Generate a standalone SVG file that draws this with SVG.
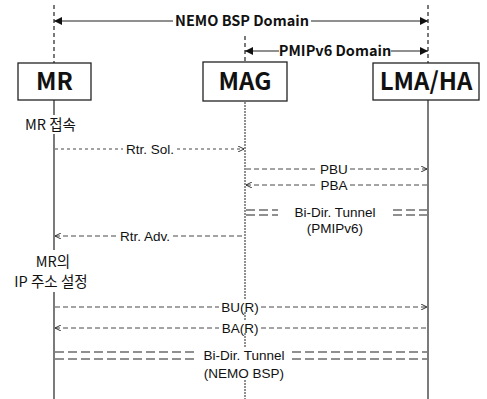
<svg xmlns="http://www.w3.org/2000/svg" width="487" height="399" viewBox="0 0 487 399">
<defs>
<style>
.t{font-family:"Noto Sans CJK KR","Noto Sans",sans-serif;fill:#111}
.m{font-family:"Liberation Sans",Arial,sans-serif;fill:#111}
.box{fill:#fff;stroke:#222;stroke-width:1.3}
.bl{font-size:24px;font-weight:bold;text-anchor:middle}
.dom{font-size:14.5px;font-weight:bold;text-anchor:middle}
.msg{font-size:13.5px;text-anchor:middle}
.lbl{font-size:14.5px}
.ll{stroke:#222;stroke-width:1.2;fill:none}
.lld{stroke:#222;stroke-width:1.2;fill:none;stroke-dasharray:4 3}
.llm{stroke:#222;stroke-width:1;fill:none;stroke-dasharray:2 1}
.solid{stroke:#222;stroke-width:1.2;fill:none}
.dash{stroke:#333;stroke-width:0.9;fill:none;stroke-dasharray:5 3}
.dot{stroke:#333;stroke-width:0.9;fill:none;stroke-dasharray:3 3}
.tun{stroke:#222;stroke-width:1.2;fill:none;stroke-dasharray:9 4}
</style>
<marker id="fa" viewBox="0 0 10 10" refX="10" refY="5" markerWidth="12" markerHeight="8" markerUnits="userSpaceOnUse" orient="auto-start-reverse">
<path d="M0,0 L10,5 L0,10 z" fill="#111"/>
</marker>
<marker id="oa" viewBox="0 0 10 10" refX="10" refY="5" markerWidth="6" markerHeight="6" markerUnits="userSpaceOnUse" orient="auto-start-reverse">
<path d="M0,0 L10,5 L0,10" fill="none" stroke="#222" stroke-width="1.5"/>
</marker>
</defs>
<rect width="487" height="399" fill="#fff"/>

<g id="lifelines">
<line class="lld" x1="54" y1="5" x2="54" y2="63"/>
<line class="ll" x1="54" y1="100" x2="54" y2="115"/>
<line class="ll" x1="54" y1="134" x2="54" y2="250"/>
<line class="ll" x1="54" y1="292" x2="54" y2="399"/>
<line class="lld" x1="245" y1="36" x2="245" y2="62"/>
<line class="llm" x1="245" y1="102" x2="245" y2="299"/>
<line class="llm" x1="245" y1="312" x2="245" y2="320"/>
<line class="llm" x1="245" y1="333" x2="245" y2="347"/>
<line class="llm" x1="245" y1="380" x2="245" y2="399"/>
<line class="lld" x1="428" y1="5" x2="428" y2="63"/>
<line class="ll" x1="428" y1="100" x2="428" y2="399"/>
</g>

<g id="domains">
<line class="solid" x1="54" y1="21" x2="173" y2="21" marker-start="url(#fa)"/>
<line class="solid" x1="311" y1="21" x2="428" y2="21" marker-end="url(#fa)"/>
<text class="t dom" x="242" y="26">NEMO BSP Domain</text>
<line class="solid" x1="245" y1="51" x2="279" y2="51" marker-start="url(#fa)"/>
<line class="solid" x1="391" y1="51" x2="428" y2="51" marker-end="url(#fa)"/>
<text class="t dom" x="335" y="56">PMIPv6 Domain</text>
</g>

<g id="MR">
<rect class="box" x="18" y="63" width="73" height="37"/>
<text class="t bl" x="54.5" y="90">MR</text>
</g>
<g id="MAG">
<rect class="box" x="203" y="62" width="84" height="39"/>
<text class="t bl" x="245" y="90">MAG</text>
</g>
<g id="LMA-HA">
<rect class="box" x="373" y="63" width="106" height="37"/>
<text class="t bl" x="426" y="90">LMA/HA</text>
</g>

<g id="notes">
<text class="t lbl" x="25" y="130">MR 접속</text>
<text class="t lbl" x="53" y="267" text-anchor="middle">MR의</text>
<text class="t lbl" x="51" y="287" text-anchor="middle">IP 주소 설정</text>
</g>

<g id="connectors">
<line class="dot" x1="55" y1="149" x2="123" y2="149"/>
<line class="dot" x1="177" y1="149" x2="244" y2="149" marker-end="url(#oa)"/>
<text class="m msg" x="150" y="153.7">Rtr. Sol.</text>

<line class="dash" x1="246" y1="169" x2="318" y2="169"/>
<line class="dash" x1="350" y1="169" x2="427" y2="169" marker-end="url(#oa)"/>
<text class="m msg" x="334" y="173.7">PBU</text>

<line class="dash" x1="246" y1="185" x2="318" y2="185" marker-start="url(#oa)"/>
<line class="dash" x1="350" y1="185" x2="427" y2="185"/>
<text class="m msg" x="334" y="189.7">PBA</text>

<line class="tun" x1="246" y1="210" x2="278" y2="210"/>
<line class="tun" x1="246" y1="215" x2="278" y2="215"/>
<line class="tun" x1="393" y1="210" x2="427" y2="210"/>
<line class="tun" x1="393" y1="215" x2="427" y2="215"/>
<text class="m msg" x="335" y="217">Bi-Dir. Tunnel</text>
<text class="m msg" x="335" y="232.5">(PMIPv6)</text>

<line class="dash" x1="55" y1="236" x2="117" y2="236" marker-start="url(#oa)"/>
<line class="dash" x1="173" y1="236" x2="242" y2="236"/>
<text class="m msg" x="145" y="240.7">Rtr. Adv.</text>

<line class="dash" x1="55" y1="307" x2="219" y2="307"/>
<line class="dash" x1="261" y1="307" x2="427" y2="307" marker-end="url(#oa)"/>
<text class="m msg" x="240" y="311.7">BU(R)</text>

<line class="dash" x1="55" y1="328" x2="219" y2="328" marker-start="url(#oa)"/>
<line class="dash" x1="261" y1="328" x2="427" y2="328"/>
<text class="m msg" x="240" y="332.7">BA(R)</text>

<line class="tun" x1="55" y1="352" x2="196" y2="352"/>
<line class="tun" x1="55" y1="359" x2="196" y2="359"/>
<line class="tun" x1="292" y1="352" x2="427" y2="352"/>
<line class="tun" x1="292" y1="359" x2="427" y2="359"/>
<text class="m msg" x="244" y="360.2">Bi-Dir. Tunnel</text>
<text class="m msg" x="244" y="377.7">(NEMO BSP)</text>
</g>
</svg>
